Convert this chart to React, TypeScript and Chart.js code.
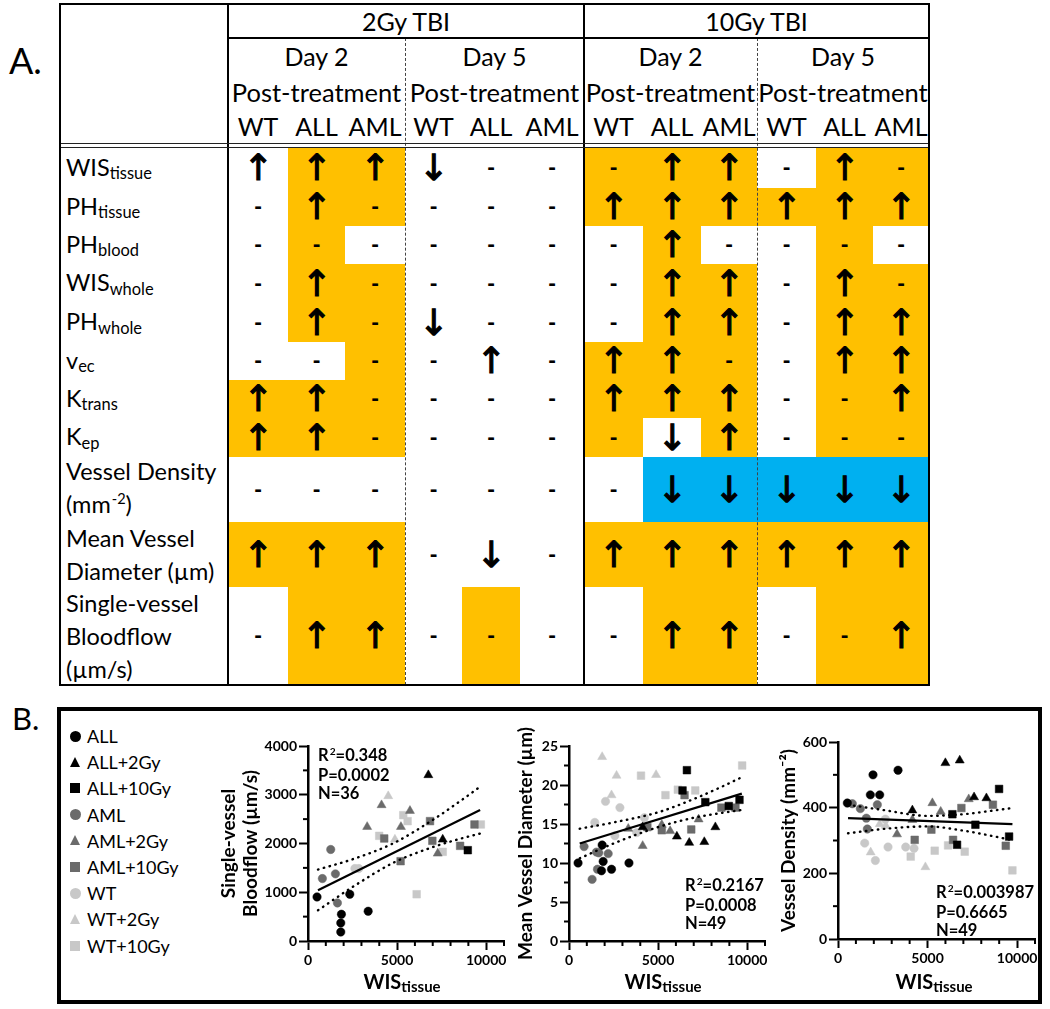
import React, { useEffect, useRef } from 'react';
import { Chart, registerables } from 'chart.js';
Chart.register(...registerables);

type Pt = [number, number];

// ---------------- Table A data ----------------
const doseGroups = ['2Gy TBI', '10Gy TBI'];
const dayGroups = ['Day 2', 'Day 5', 'Day 2', 'Day 5'];
const dayLine2 = 'Post-treatment';
const genotypes = ['WT', 'ALL', 'AML'];
const rowLabels: string[][] = [
  ['WIS_{tissue}'],
  ['PH_{tissue}'],
  ['PH_{blood}'],
  ['WIS_{whole}'],
  ['PH_{whole}'],
  ['v_{ec}'],
  ['K_{trans}'],
  ['K_{ep}'],
  ['Vessel Density', ' (mm^{-2})'],
  ['Mean Vessel', 'Diameter (µm)'],
  ['Single-vessel', 'Bloodflow', '(µm/s)'],
];
// U = increase, D = decrease, - = no change ; 12 columns (2Gy D2 WT/ALL/AML, 2Gy D5, 10Gy D2, 10Gy D5)
const changes: string[] = [
  'UUUD---UU-U-',
  '-U----UUUUUU',
  '-------U----',
  '-U-----UU-U-',
  '-U-D---UU-UU',
  '----U-UU--UU',
  'UU----UUU--U',
  'UU-----DU---',
  '-------DDDDD',
  'UUU-D-UUUUUU',
  '-UU----UU--U',
];
// W = white, O = significant (orange), B = significant decrease (blue)
const shading: string[] = [
  'WOOWWWOOOWOO',
  'WOOWWWOOOOOO',
  'WOWWWWWOWWOW',
  'WOOWWWWOOWOO',
  'WOOWWWWOOWOO',
  'WWOWWWOOOWOO',
  'OOOWWWOOOWOO',
  'OOOWWWOWOWOO',
  'WWWWWWWBBBBB',
  'OOOWWWOOOOOO',
  'WOOWOWWOOWOO',
];

// ---------------- Panel B data ----------------
const groupNames = ['ALL', 'ALL+2Gy', 'ALL+10Gy', 'AML', 'AML+2Gy', 'AML+10Gy', 'WT', 'WT+2Gy', 'WT+10Gy'];

// Single-vessel bloodflow (µm/s) vs WIS_tissue
const bfALL: Pt[] = [[507, 904], [1876, 548], [1839, 370], [1839, 185], [2345, 959], [3377, 610]];
const bfALL2: Pt[] = [[6754, 3404], [7561, 2082]];
const bfALL10: Pt[] = [[8968, 1863]];
const bfAML: Pt[] = [[1276, 1877], [807, 1281], [1539, 1377], [1651, 781]];
const bfAML2: Pt[] = [[3321, 2342], [4128, 2788], [5216, 2342], [5722, 2671], [7280, 1795]];
const bfAML10: Pt[] = [[4278, 2103], [5197, 1637], [6848, 2459], [6979, 2055], [8537, 1952], [9343, 2390]];
const bfWT: Pt[] = [[2630, 1486], [2850, 1486]];
const bfWT2: Pt[] = [[4503, 2973], [4878, 2082]];
const bfWT10: Pt[] = [[3996, 2157], [5347, 2582], [5591, 2459], [6098, 959], [7561, 1829], [9700, 2390]];
const bfFit: Pt[] = [[560, 1041], [9660, 2685]];
const bfUpper: Pt[] = [[560, 1466], [2500, 1677], [4800, 2007], [7000, 2484], [8500, 2859], [9660, 3164]];
const bfLower: Pt[] = [[560, 630], [2500, 1107], [4800, 1607], [7000, 1926], [8500, 2093], [9660, 2205]];
const bfStats = ['R^{2}=0.348', 'P=0.0002', 'N=36'];

// Mean vessel diameter (µm) vs WIS_tissue
const mvdALL: Pt[] = [[508, 10.0], [1861, 12.3], [1917, 10.2], [1823, 9.0], [2387, 9.2], [3365, 10.0]];
const mvdALL2: Pt[] = [[4135, 14.6], [6053, 13.4], [6748, 12.6], [7594, 12.7], [8214, 14.6]];
const mvdALL10: Pt[] = [[6372, 19.3], [6617, 21.9], [7650, 17.8], [8966, 17.3], [9568, 18.1]];
const mvdAML: Pt[] = [[846, 12.1], [1297, 7.9], [1541, 11.4], [1673, 11.3], [1597, 9.2], [2199, 11.2]];
const mvdAML2: Pt[] = [[3327, 14.4], [4135, 12.2], [5207, 14.9], [5677, 14.1], [7274, 15.6]];
const mvdAML10: Pt[] = [[4398, 14.6], [5207, 14.2], [6485, 18.7], [6861, 14.3], [8553, 17.1], [9342, 17.1]];
const mvdWT: Pt[] = [[1447, 15.2], [2049, 17.9], [2575, 13.5], [2857, 17.1], [3797, 13.9], [4229, 15.8]];
const mvdWT2: Pt[] = [[1861, 23.6], [2387, 18.7], [2669, 21.2], [4887, 21.3]];
const mvdWT10: Pt[] = [[4041, 21.2], [5413, 18.7], [6109, 19.4], [7086, 19.3], [9718, 22.5]];
const mvdFit: Pt[] = [[600, 12.5], [9700, 18.9]];
const mvdUpper: Pt[] = [[600, 14.4], [2500, 15.2], [5000, 16.5], [7000, 18.2], [8500, 19.7], [9700, 21.0]];
const mvdLower: Pt[] = [[600, 10.6], [2500, 12.5], [5000, 14.6], [7000, 15.8], [8500, 16.4], [9700, 16.8]];
const mvdStats = ['R^{2}=0.2167', 'P=0.0008', 'N=49'];

// Vessel density (mm^-2) vs WIS_tissue
const vdALL: Pt[] = [[521, 414], [1955, 500], [1806, 439], [2328, 439], [3352, 514]];
const vdALL2: Pt[] = [[4153, 392], [5996, 536], [6797, 544], [7598, 432], [8287, 429]];
const vdALL10: Pt[] = [[6387, 380], [6648, 287], [7672, 348], [8994, 457], [9553, 312]];
const vdAML: Pt[] = [[801, 412], [1248, 397], [1583, 368], [1639, 335], [2197, 409]];
const vdAML2: Pt[] = [[3296, 319], [4153, 363], [5270, 414], [5735, 388], [7300, 426]];
const vdAML10: Pt[] = [[4283, 302], [5214, 333], [6425, 302], [6890, 399], [8650, 409], [9367, 284]];
const vdWT: Pt[] = [[1490, 292], [2086, 239], [2644, 365], [2793, 280], [3780, 280], [4246, 276]];
const vdWT2: Pt[] = [[1825, 264], [2328, 350], [2663, 345], [4879, 219]];
const vdWT10: Pt[] = [[4060, 251], [5400, 269], [6145, 285], [7076, 266], [9739, 209]];
const vdFit: Pt[] = [[560, 368], [9740, 350]];
const vdUpper: Pt[] = [[560, 409], [2500, 393], [5000, 375], [7000, 380], [8500, 390], [9740, 399]];
const vdLower: Pt[] = [[560, 322], [2500, 335], [5000, 343], [7000, 330], [8500, 315], [9740, 301]];
const vdStats = ['R^{2}=0.003987', 'P=0.6665', 'N=49'];

const xTickMajor = 5000;
const xTickMinor = 1000;
const xAxisMax = 11000;
const xTitle = 'WIS_{tissue}';

// ---------------- styling ----------------
const FONT = 'Lato, "Open Sans", "Noto Sans", sans-serif';
const ORANGE = '#FFC000';
const BLUE = '#00B0F0';
const C_BLACK = '#000000';
const C_DARK = '#6b6b6b';
const C_LIGHT = '#c8c8c8';
const groupColors = [C_BLACK, C_BLACK, C_BLACK, C_DARK, C_DARK, C_DARK, C_LIGHT, C_LIGHT, C_LIGHT];
const groupShapes = ['circle', 'triangle', 'rect', 'circle', 'triangle', 'rect', 'circle', 'triangle', 'rect'];

function Rich({ s, subSize = '0.7em', subShift = '0.22em' }: { s: string; subSize?: string; subShift?: string }) {
  const parts: React.ReactNode[] = [];
  const re = /([_^])\{([^}]*)\}/g;
  let last = 0;
  let m: RegExpExecArray | null;
  let k = 0;
  while ((m = re.exec(s))) {
    if (m.index > last) parts.push(<span key={k++}>{s.slice(last, m.index)}</span>);
    if (m[1] === '_') {
      parts.push(
        <span key={k++} style={{ fontSize: subSize, position: 'relative', top: subShift }}>
          {m[2]}
        </span>
      );
    } else {
      parts.push(
        <span key={k++} style={{ fontSize: '0.62em', position: 'relative', top: '-0.6em', marginLeft: 1 }}>
          {m[2]}
        </span>
      );
    }
    last = re.lastIndex;
  }
  if (last < s.length) parts.push(<span key={k++}>{s.slice(last)}</span>);
  return <>{parts}</>;
}

// ---------------- Table A ----------------
const TX = [60, 228, 288, 345, 405, 462, 520, 584, 643, 701, 757, 816, 873, 929];
const TY = [148, 188, 226, 264, 303, 342, 380, 418, 457, 522, 587, 685];

function TableA() {
  const els: React.ReactNode[] = [];
  // cells
  for (let r = 0; r < changes.length; r++) {
    for (let c = 0; c < 12; c++) {
      const sh = shading[r][c];
      const ch = changes[r][c];
      const bg = sh === 'O' ? ORANGE : sh === 'B' ? BLUE : '#fff';
      const sym = ch === 'U' ? '↑' : ch === 'D' ? '↓' : '-';
      els.push(
        <div
          key={`c${r}-${c}`}
          style={{
            position: 'absolute',
            left: TX[c + 1],
            top: TY[r],
            width: TX[c + 2] - TX[c + 1],
            height: TY[r + 1] - TY[r],
            background: bg,
            display: 'flex',
            alignItems: 'center',
            justifyContent: 'center',
          }}
        >
          {ch === '-' ? (
            <span style={{ fontFamily: FONT, fontWeight: 900, fontSize: 22, lineHeight: 1 }}>{sym}</span>
          ) : (
            <span style={{ fontFamily: '"DejaVu Sans", sans-serif', fontWeight: 400, fontSize: 36, lineHeight: 1, WebkitTextStroke: '1.1px #000' }}>{sym}</span>
          )}
        </div>
      );
    }
    // row label
    els.push(
      <div
        key={`l${r}`}
        style={{
          position: 'absolute',
          left: 66,
          top: TY[r],
          width: TX[1] - 66,
          height: TY[r + 1] - TY[r],
          display: 'flex',
          flexDirection: 'column',
          justifyContent: 'center',
          fontSize: 23.5,
          lineHeight: rowLabels[r].length > 1 ? '33px' : '30px',
          whiteSpace: 'nowrap',
        }}
      >
        {rowLabels[r].map((line, i) => (
          <div key={i}>
            <Rich s={line} />
          </div>
        ))}
      </div>
    );
  }
  // header: dose
  doseGroups.forEach((d, i) => {
    const l = TX[1 + 6 * i];
    const rgt = TX[7 + 6 * i];
    els.push(
      <div key={`d${i}`} style={{ position: 'absolute', left: l, top: 4, width: rgt - l, height: 34, display: 'flex', alignItems: 'center', justifyContent: 'center', fontSize: 25 }}>
        {d}
      </div>
    );
  });
  dayGroups.forEach((d, g) => {
    const l = TX[1 + 3 * g];
    const rgt = TX[4 + 3 * g];
    els.push(
      <div key={`g${g}`} style={{ position: 'absolute', left: l, top: 38, width: rgt - l, height: 36, display: 'flex', alignItems: 'center', justifyContent: 'center', fontSize: 25 }}>
        {d}
      </div>
    );
    els.push(
      <div key={`p${g}`} style={{ position: 'absolute', left: l, top: 74, width: rgt - l, height: 36, display: 'flex', alignItems: 'center', justifyContent: 'center', fontSize: 25.5, whiteSpace: 'nowrap' }}>
        {dayLine2}
      </div>
    );
    genotypes.forEach((gt, j) => {
      const cl = TX[1 + 3 * g + j];
      const cr = TX[2 + 3 * g + j];
      els.push(
        <div key={`t${g}-${j}`} style={{ position: 'absolute', left: cl, top: 108, width: cr - cl, height: 36, display: 'flex', alignItems: 'center', justifyContent: 'center', fontSize: 25 }}>
          {gt}
        </div>
      );
    });
  });
  // lines
  const line = (key: string, st: React.CSSProperties) => els.push(<div key={key} style={{ position: 'absolute', ...st }} />);
  line('vl1', { left: 227, top: 3, width: 1.6, height: 683, background: '#000' });
  line('vl2', { left: 583, top: 3, width: 1.6, height: 683, background: '#000' });
  line('vd1', { left: 405, top: 38, width: 0, height: 647, borderLeft: '1.3px dashed #444' });
  line('vd2', { left: 757, top: 38, width: 0, height: 647, borderLeft: '1.3px dashed #444' });
  line('hl1', { left: 228, top: 37, width: 701, height: 1.6, background: '#000' });
  line('hd1', { left: 60, top: 143, width: 869, height: 1.3, background: '#222' });
  line('hd2', { left: 60, top: 146.5, width: 869, height: 1.3, background: '#222' });
  line('box', { left: 59, top: 3, width: 871, height: 683, border: '2.2px solid #000', boxSizing: 'border-box' });
  return <>{els}</>;
}

// ---------------- Scatter panels ----------------
interface PanelProps {
  left: number;
  top: number;
  width: number;
  height: number;
  padTop: number;
  padRight: number;
  yAxisW: number;
  xAxisH: number;
  yMax: number;
  yMinor: number;
  yMajor: number;
  yTitle: string | string[];
  yTitlePad: number;
  series: Pt[][];
  fit: Pt[];
  upper: Pt[];
  lower: Pt[];
}

function ScatterPanel(p: PanelProps) {
  const ref = useRef<HTMLCanvasElement | null>(null);
  useEffect(() => {
    if (!ref.current) return;
    const toXY = (a: Pt[]) => a.map(([x, y]) => ({ x, y }));
    const minorPlugin = {
      id: 'minorTicks',
      afterDraw(chart: any) {
        const ctx = chart.ctx;
        const xs = chart.scales.x;
        const ys = chart.scales.y;
        ctx.save();
        ctx.strokeStyle = '#000';
        ctx.lineWidth = 2;
        xs.ticks.forEach((t: any) => {
          if (Math.abs(t.value % xTickMajor) > 1e-6) {
            const px = xs.getPixelForValue(t.value);
            ctx.beginPath();
            ctx.moveTo(px, xs.top);
            ctx.lineTo(px, xs.top + 5);
            ctx.stroke();
          }
        });
        ys.ticks.forEach((t: any) => {
          if (Math.abs(t.value % p.yMajor) > 1e-6) {
            const py = ys.getPixelForValue(t.value);
            ctx.beginPath();
            ctx.moveTo(ys.right, py);
            ctx.lineTo(ys.right - 5, py);
            ctx.stroke();
          }
        });
        ctx.restore();
      },
    };
    const lineDs = (data: Pt[], dotted: boolean) => ({
      data: toXY(data),
      showLine: true,
      borderColor: '#000',
      borderWidth: dotted ? 2.4 : 2.2,
      borderDash: dotted ? [0.5, 5.5] : [],
      borderCapStyle: dotted ? 'round' : 'butt',
      pointRadius: 0,
      tension: dotted ? 0.4 : 0,
      cubicInterpolationMode: dotted ? 'monotone' : 'default',
      order: 0,
    });
    const pointDs = p.series.map((pts, i) => {
      const shape = groupShapes[i];
      return {
        data: toXY(pts),
        showLine: false,
        pointStyle: shape,
        pointRadius: shape === 'circle' ? 4.2 : shape === 'rect' ? 5.4 : 5.2,
        backgroundColor: groupColors[i],
        borderColor: groupColors[i],
        borderWidth: 0.5,
        order: 1,
      };
    });
    const tickFont = { family: FONT, size: 14, weight: 'bold' as const };
    const chart = new Chart(ref.current, {
      type: 'scatter',
      data: { datasets: [lineDs(p.fit, false), lineDs(p.upper, true), lineDs(p.lower, true), ...pointDs] as any },
      options: {
        animation: false,
        responsive: false,
        maintainAspectRatio: false,
        events: [],
        layout: { padding: { top: p.padTop, right: p.padRight, left: 0, bottom: 0 } },
        plugins: { legend: { display: false }, tooltip: { enabled: false } },
        scales: {
          x: {
            type: 'linear',
            min: 0,
            max: xAxisMax,
            afterFit: (s: any) => {
              s.height = p.xAxisH;
            },
            ticks: {
              stepSize: xTickMinor,
              autoSkip: false,
              maxRotation: 0,
              color: '#000',
              font: tickFont,
              padding: 2,
              callback: (v: any) => (Math.abs(Number(v) % xTickMajor) < 1e-6 ? String(v) : ''),
            },
            grid: {
              drawOnChartArea: false,
              drawTicks: true,
              tickLength: 9,
              tickWidth: 2,
              tickColor: (c: any) => (c.tick && Math.abs(c.tick.value % xTickMajor) < 1e-6 ? '#000' : 'rgba(0,0,0,0)'),
            },
            border: { color: '#000', width: 2.5 },
          },
          y: {
            type: 'linear',
            min: 0,
            max: p.yMax,
            afterFit: (s: any) => {
              s.width = p.yAxisW;
            },
            ticks: {
              stepSize: p.yMinor,
              autoSkip: false,
              color: '#000',
              font: tickFont,
              padding: 2,
              callback: (v: any) => (Math.abs(Number(v) % p.yMajor) < 1e-6 ? String(v) : ''),
            },
            grid: {
              drawOnChartArea: false,
              drawTicks: true,
              tickLength: 9,
              tickWidth: 2,
              tickColor: (c: any) => (c.tick && Math.abs(c.tick.value % p.yMajor) < 1e-6 ? '#000' : 'rgba(0,0,0,0)'),
            },
            border: { color: '#000', width: 2.5 },
            title: {
              display: true,
              text: p.yTitle,
              color: '#000',
              font: { family: FONT, size: 19, weight: 'bold' },
              padding: { top: p.yTitlePad, bottom: 0 },
            },
          },
        },
      },
      plugins: [minorPlugin],
    });
    return () => chart.destroy();
  }, []);
  return <canvas ref={ref} width={p.width} height={p.height} style={{ position: 'absolute', left: p.left, top: p.top }} />;
}

function Stats({ lines, left, top }: { lines: string[]; left: number; top: number }) {
  return (
    <div style={{ position: 'absolute', left, top, fontWeight: 700, fontSize: 16.5, lineHeight: '18px', whiteSpace: 'nowrap' }}>
      {lines.map((l, i) => (
        <div key={i}>
          <Rich s={l} />
        </div>
      ))}
    </div>
  );
}

function XTitle({ cx }: { cx: number }) {
  return (
    <div style={{ position: 'absolute', left: cx - 80, width: 160, top: 969, textAlign: 'center', fontWeight: 700, fontSize: 20, lineHeight: '24px', whiteSpace: 'nowrap' }}>
      <Rich s={xTitle} subSize="15px" subShift="3px" />
    </div>
  );
}

function Legend() {
  return (
    <>
      {groupNames.map((g, i) => {
        const y = 736 + i * 26.2;
        const col = groupColors[i];
        const shape = groupShapes[i];
        let marker: React.ReactNode;
        if (shape === 'circle') {
          marker = <div style={{ position: 'absolute', left: 70, top: y - 5.5, width: 11, height: 11, borderRadius: '50%', background: col }} />;
        } else if (shape === 'rect') {
          marker = <div style={{ position: 'absolute', left: 70, top: y - 5, width: 10, height: 10, background: col }} />;
        } else {
          marker = (
            <div style={{ position: 'absolute', left: 70, top: y - 5.5, width: 0, height: 0, borderLeft: '5.5px solid transparent', borderRight: '5.5px solid transparent', borderBottom: `10px solid ${col}` }} />
          );
        }
        return (
          <React.Fragment key={g}>
            {marker}
            <div style={{ position: 'absolute', left: 87, top: y - 12, height: 24, lineHeight: '24px', fontSize: 18, whiteSpace: 'nowrap' }}>{g}</div>
          </React.Fragment>
        );
      })}
    </>
  );
}

export default function App() {
  return (
    <div style={{ position: 'absolute', left: 0, top: 0, width: 1050, height: 1009, background: '#fff', fontFamily: FONT, color: '#000', overflow: 'hidden' }}>
      <div style={{ position: 'absolute', left: 9, top: 40, fontSize: 36, lineHeight: '40px' }}>A.</div>
      <TableA />
      <div style={{ position: 'absolute', left: 12, top: 700, fontSize: 31, lineHeight: '36px' }}>B.</div>
      <div style={{ position: 'absolute', left: 57, top: 707, width: 985, height: 297, border: '4.5px solid #000', boxSizing: 'border-box' }} />
      <Legend />
      <ScatterPanel
        left={215}
        top={712}
        width={300}
        height={288}
        padTop={34}
        padRight={11}
        yAxisW={93}
        xAxisH={59}
        yMax={4000}
        yMinor={500}
        yMajor={1000}
        yTitle={['Single-vessel', 'Bloodflow (µm/s)']}
        yTitlePad={2}
        series={[bfALL, bfALL2, bfALL10, bfAML, bfAML2, bfAML10, bfWT, bfWT2, bfWT10]}
        fit={bfFit}
        upper={bfUpper}
        lower={bfLower}
      />
      <ScatterPanel
        left={514}
        top={712}
        width={266}
        height={288}
        padTop={34}
        padRight={15}
        yAxisW={55}
        xAxisH={59}
        yMax={25}
        yMinor={2.5}
        yMajor={5}
        yTitle={'Mean Vessel Diameter (µm)'}
        yTitlePad={0}
        series={[mvdALL, mvdALL2, mvdALL10, mvdAML, mvdAML2, mvdAML10, mvdWT, mvdWT2, mvdWT10]}
        fit={mvdFit}
        upper={mvdUpper}
        lower={mvdLower}
      />
      <ScatterPanel
        left={777}
        top={712}
        width={265}
        height={288}
        padTop={30}
        padRight={7}
        yAxisW={61}
        xAxisH={61}
        yMax={600}
        yMinor={100}
        yMajor={200}
        yTitle={'Vessel Density (mm⁻²)'}
        yTitlePad={0}
        series={[vdALL, vdALL2, vdALL10, vdAML, vdAML2, vdAML10, vdWT, vdWT2, vdWT10]}
        fit={vdFit}
        upper={vdUpper}
        lower={vdLower}
      />
      <Stats lines={bfStats} left={318} top={746} />
      <Stats lines={mvdStats} left={685} top={876} />
      <Stats lines={vdStats} left={936} top={883} />
      <XTitle cx={402} />
      <XTitle cx={663} />
      <XTitle cx={934} />
    </div>
  );
}
